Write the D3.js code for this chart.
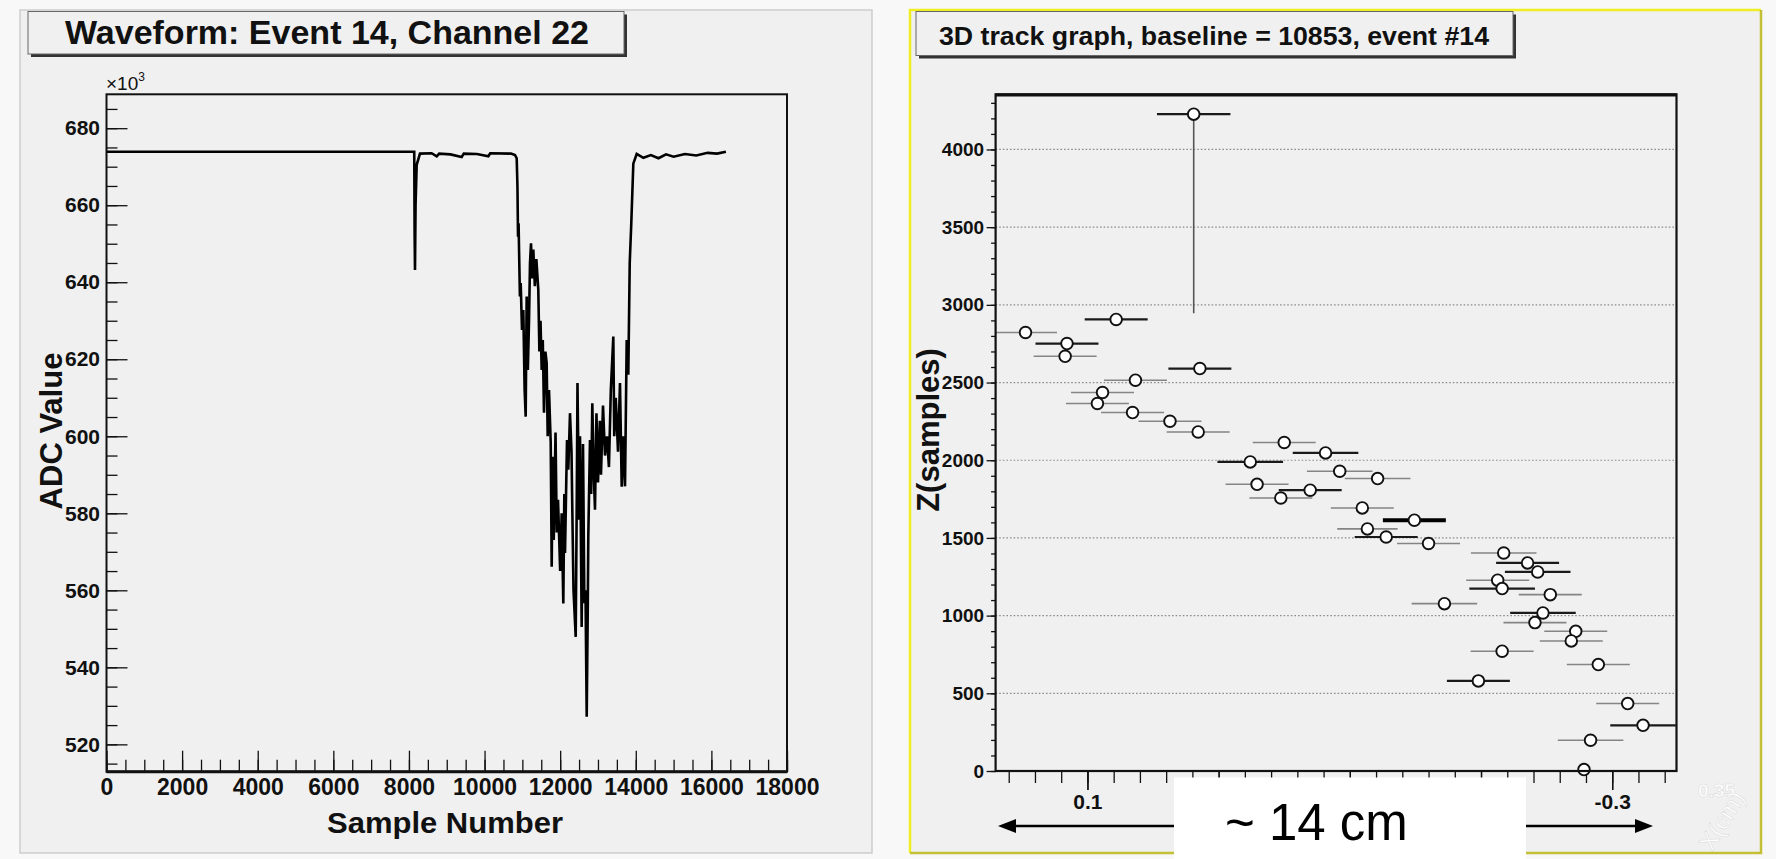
<!DOCTYPE html>
<html>
<head>
<meta charset="utf-8">
<script src="https://cdnjs.cloudflare.com/ajax/libs/d3/7.8.5/d3.min.js"></script>
<style>
body { margin: 0; background: #f8f8f8; }
svg { display: block; }
</style>
</head>
<body>
<svg id="viz" width="1776" height="859"></svg>
<script>
// ---- left plot: waveform, sample number vs ADC value (x10^3)
var waveSample = [0, 8140, 8150, 8160, 8175, 8205, 8292, 8600, 8735, 8800, 9100, 9395, 9450, 9800, 10100, 10150, 10700, 10805,
  10850, 10870, 10885, 10900, 10935, 10956, 10990, 11025, 11060, 11088, 11100, 11114, 11145, 11176, 11202, 11229, 11260, 11290,
  11330, 11370, 11422, 11450, 11480, 11511, 11540, 11572, 11610, 11643, 11670, 11705, 11750, 11776, 11800, 11830, 11877, 11910,
  11943, 12000, 12040, 12083, 12110, 12128, 12181, 12215, 12260, 12300, 12330, 12353, 12411, 12440, 12458, 12500, 12525, 12569,
  12604, 12640, 12670, 12702, 12730, 12744, 12789, 12820, 12850, 12890, 12921, 12960, 13001, 13050, 13080, 13133, 13186, 13239,
  13290, 13340, 13406, 13430, 13470, 13530, 13582, 13628, 13670, 13715, 13760, 13802, 13840, 13880, 13935, 14024,
  14200, 14400, 14600, 14800, 15000, 15300, 15600, 15900, 16150, 16384]
var waveValue = [673.9, 673.9, 652.7, 643.2, 660.0, 670.5, 673.4, 673.5, 672.7, 673.4, 673.2, 672.5, 673.4, 673.3, 672.7, 673.5, 673.4, 673.0,
  672.2, 665.0, 651.8, 655.3, 636.3, 639.8, 627.6, 632.8, 612.0, 605.1, 620.0, 636.3, 617.2, 630.0, 645.0, 650.1, 641.0, 648.5,
  639.0, 646.0, 638.0, 622.0, 630.0, 617.2, 625.0, 606.1, 622.0, 619.0, 600.0, 612.0, 598.3, 566.1, 594.7, 573.1, 601.0, 575.0,
  583.5, 565.0, 580.0, 556.6, 585.0, 569.7, 599.0, 591.3, 606.0, 596.0, 575.0, 560.0, 547.9, 585.0, 613.8, 578.3, 600.0, 550.5,
  598.0, 556.7, 560.0, 527.2, 555.0, 573.9, 599.0, 585.0, 608.6, 590.0, 580.9, 606.0, 588.0, 604.0, 590.0, 608.0, 595.0, 600.0,
  592.0, 612.0, 625.9, 600.0, 610.0, 596.0, 613.8, 586.9, 600.0, 587.0, 625.0, 616.0, 645.0, 655.0, 670.8, 673.3,
  672.3, 673.0, 672.2, 673.2, 672.6, 673.3, 672.9, 673.6, 673.4, 673.9]
var waveXTicks = [0, 2000, 4000, 6000, 8000, 10000, 12000, 14000, 16000, 18000]
var waveYTicks = [520, 540, 560, 580, 600, 620, 640, 660, 680]

// ---- right plot: 3D track graph points, X (cm) vs Z (samples)
var trackX = [0.0190, 0.0781, 0.1472, 0.1156, 0.1170, 0.0143, 0.0634, 0.0885, 0.0924, 0.0656, 0.0371, 0.0156, -0.0500,
  -0.0815, -0.0241, -0.0923, -0.1212, -0.0293, -0.0698, -0.0474, -0.1095, -0.1492, -0.1134, -0.1277, -0.1600, -0.2173,
  -0.2355, -0.2432, -0.2127, -0.2161, -0.2528, -0.1721, -0.2472, -0.2411, -0.2722, -0.2688, -0.2161, -0.2894, -0.1980,
  -0.3118, -0.3235, -0.2835, -0.2785]
var trackZ = [4227, 2906, 2822, 2751, 2669, 2590, 2515, 2436, 2365, 2307, 2251, 2182, 2114, 2047, 1989, 1929, 1882, 1845,
  1807, 1757, 1693, 1614, 1558, 1506, 1464, 1403, 1339, 1281, 1228, 1174, 1135, 1077, 1017, 955, 899, 837, 771, 685, 580,
  434, 294, 198, 9]
var trackEx = [0.028, 0.024, 0.024, 0.024, 0.024, 0.024, 0.024, 0.024, 0.024, 0.024, 0.024, 0.024, 0.024, 0.025, 0.025,
  0.025, 0.025, 0.024, 0.024, 0.024, 0.024, 0.024, 0.023, 0.024, 0.024, 0.025, 0.024, 0.025, 0.024, 0.025, 0.024, 0.025,
  0.025, 0.024, 0.024, 0.024, 0.024, 0.024, 0.024, 0.024, 0.025, 0.025, 0]
var trackEzLo = [1281, 0, 0, 0, 0, 0, 0, 0, 0, 0, 0, 0, 0, 0, 0, 0, 0, 0, 0, 0, 0, 0, 0, 0, 0, 0, 0, 0, 0, 0, 0, 0, 0, 0, 0, 0, 0, 0, 77, 84, 61, 0, 0]
var trackEzHi = [0, 0, 0, 0, 0, 0, 0, 0, 0, 0, 0, 0, 0, 0, 0, 0, 0, 0, 0, 0, 0, 0, 0, 0, 0, 0, 0, 0, 0, 0, 0, 0, 0, 0, 0, 0, 0, 0, 77, 84, 61, 0, 156]
// bar style: l = thin grey, d = dark, h = heavy
var trackStyle = ["d", "d", "l", "d", "l", "d", "l", "l", "l", "l", "l", "l", "l", "d", "d", "l", "l", "l", "d", "l", "l", "h",
  "l", "d", "l", "l", "d", "d", "l", "d", "l", "l", "d", "l", "l", "l", "l", "l", "d", "l", "d", "l", "l"]
var trackXTicks = [0.1, 0, -0.1, -0.2, -0.3]
var trackXLabels = [0.1, -0.3]   // the others sit under the white box
var trackZTicks = [0, 500, 1000, 1500, 2000, 2500, 3000, 3500, 4000]

var font = "'Liberation Sans', Arial, Helvetica, sans-serif"
var svg = d3.select("#viz")

// pads
svg.append("rect").attr("x", 20).attr("y", 10).attr("width", 852).attr("height", 843)
  .attr("fill", "#f0f0f0").attr("stroke", "#cdcdcd").attr("stroke-width", 1.5)
svg.append("rect").attr("x", 910).attr("y", 10).attr("width", 851).attr("height", 843).attr("fill", "#f0f0f0")
svg.append("path").attr("d", "M910,853V10H1761").attr("fill", "none").attr("stroke", "#eeee22").attr("stroke-width", 2.5)
svg.append("path").attr("d", "M1761,10V853H910").attr("fill", "none").attr("stroke", "#c4c036").attr("stroke-width", 2.5)

function titleBox(x, y, w, h, tx, ty, size, len, label) {
  svg.append("rect").attr("x", x + 3).attr("y", y + 3).attr("width", w).attr("height", h).attr("fill", "#333")
  svg.append("rect").attr("x", x).attr("y", y).attr("width", w).attr("height", h)
    .attr("fill", "#f0f0f0").attr("stroke", "#666").attr("stroke-width", 1)
  svg.append("text").attr("x", tx).attr("y", ty).attr("font-family", font).attr("font-weight", "bold")
    .attr("font-size", size).attr("textLength", len).attr("lengthAdjust", "spacingAndGlyphs")
    .attr("fill", "#111").text(label)
}
titleBox(28, 11.5, 596, 42.5, 65, 43.5, 33, 524, "Waveform: Event 14, Channel 22")
titleBox(916, 11.5, 597, 44, 939, 45, 26, 550, "3D track graph, baseline = 10853, event #14")

function styleAxis(g, size) {
  g.select(".domain").remove()
  g.selectAll("line").attr("stroke", "#111").attr("stroke-width", 1.3)
  g.selectAll("text").attr("font-family", font).attr("font-weight", "bold")
    .attr("font-size", size).attr("fill", "#111")
}

// ================= left: waveform =================
var xL = d3.scaleLinear().domain([0, 18000]).range([106.5, 787])
var yL = d3.scaleLinear().domain([512.9, 688.8]).range([771.7, 94.3])

svg.append("g").attr("transform", "translate(0,771.7)")
  .call(d3.axisBottom(xL).tickValues(d3.range(0, 18001, 500)).tickSize(-12).tickFormat(""))
  .call(styleAxis, 23)
svg.append("g").attr("transform", "translate(0,771.7)")
  .call(d3.axisBottom(xL).tickValues(waveXTicks).tickSize(-21).tickPadding(7).tickFormat(d3.format("d")))
  .call(styleAxis, 23)
svg.append("g").attr("transform", "translate(106.5,0)")
  .call(d3.axisLeft(yL).tickValues(d3.range(515, 689, 5)).tickSize(-11).tickFormat(""))
  .call(styleAxis, 21)
svg.append("g").attr("transform", "translate(106.5,0)")
  .call(d3.axisLeft(yL).tickValues(waveYTicks).tickSize(-21).tickPadding(6.5).tickFormat(d3.format("d")))
  .call(styleAxis, 21)

var waveLine = d3.line().x(function(d, i) { return xL(waveSample[i]) }).y(function(d, i) { return yL(waveValue[i]) })
svg.append("path").datum(waveSample).attr("d", waveLine)
  .attr("fill", "none").attr("stroke", "#000").attr("stroke-width", 2.6).attr("stroke-linejoin", "miter")

svg.append("rect").attr("x", 106.5).attr("y", 94.3).attr("width", 680.5).attr("height", 677.4)
  .attr("fill", "none").attr("stroke", "#111").attr("stroke-width", 2)
svg.append("line").attr("x1", 106.5).attr("x2", 787).attr("y1", 771.7).attr("y2", 771.7)
  .attr("stroke", "#111").attr("stroke-width", 3)

var exp = svg.append("text").attr("x", 106).attr("y", 90).attr("font-family", font)
  .attr("font-size", 19).attr("fill", "#111").text("\u00d710")
exp.append("tspan").attr("dy", -9).attr("font-size", 12).text("3")

svg.append("text").attr("x", 445).attr("y", 833).attr("text-anchor", "middle")
  .attr("font-family", font).attr("font-weight", "bold").attr("font-size", 30)
  .attr("textLength", 236).attr("lengthAdjust", "spacingAndGlyphs").attr("fill", "#111").text("Sample Number")
svg.append("text").attr("transform", "translate(62,431) rotate(-90)").attr("text-anchor", "middle")
  .attr("font-family", font).attr("font-weight", "bold").attr("font-size", 31).attr("fill", "#111").text("ADC Value")

// ================= right: track graph =================
var xR = d3.scaleLinear().domain([0.17, -0.349]).range([995.6, 1676.5])
var yR = d3.scaleLinear().domain([0, 4355]).range([771, 94.3])

svg.append("g").selectAll("line").data(trackZTicks.filter(function(d) { return d > 0 })).enter().append("line")
  .attr("x1", xR.range()[0]).attr("x2", xR.range()[1])
  .attr("y1", function(d) { return yR(d) }).attr("y2", function(d) { return yR(d) })
  .attr("stroke", "#8c8c8c").attr("stroke-width", 1.2).attr("stroke-dasharray", "1.6,2")

svg.append("g").attr("transform", "translate(0,771)")
  .call(d3.axisBottom(xR).tickValues(d3.range(8, -18, -1).map(function(k) { return k * 0.02 })).tickSize(12).tickFormat(""))
  .call(styleAxis, 21)
svg.append("g").attr("transform", "translate(0,771)")
  .call(d3.axisBottom(xR).tickValues(trackXTicks).tickSize(19).tickFormat(""))
  .call(styleAxis, 21)
svg.append("g").attr("transform", "translate(0,771)")
  .call(d3.axisBottom(xR).tickValues(trackXLabels).tickSize(19).tickPadding(4)
    .tickFormat(function(d) { return String(Math.round(d * 10) / 10) }))
  .call(styleAxis, 21)
svg.append("g").attr("transform", "translate(995.6,0)")
  .call(d3.axisLeft(yR).tickValues(d3.range(0, 4355, 100)).tickSize(4.5).tickFormat(""))
  .call(styleAxis, 19)
svg.append("g").attr("transform", "translate(995.6,0)")
  .call(d3.axisLeft(yR).tickValues(trackZTicks).tickSize(9).tickPadding(2.5).tickFormat(d3.format("d")))
  .call(styleAxis, 19)

svg.append("clipPath").attr("id", "frameclip").append("rect")
  .attr("x", 995.6).attr("y", 94.3).attr("width", 680.9).attr("height", 676.7)

var barColor = { l: "#858585", d: "#1a1a1a", h: "#000" }
var barWidth = { l: 1.6, d: 2.2, h: 4 }
var bars = svg.append("g").attr("clip-path", "url(#frameclip)")
bars.selectAll("line.ex").data(trackX).enter().append("line").attr("class", "ex")
  .filter(function(d, i) { return trackEx[i] > 0 })
  .attr("x1", function(d, i) { return xR(d + trackEx[i]) })
  .attr("x2", function(d, i) { return xR(d - trackEx[i]) })
  .attr("y1", function(d, i) { return yR(trackZ[i]) })
  .attr("y2", function(d, i) { return yR(trackZ[i]) })
  .attr("stroke", function(d, i) { return barColor[trackStyle[i]] })
  .attr("stroke-width", function(d, i) { return barWidth[trackStyle[i]] })
bars.selectAll("line.ez").data(trackX).enter().append("line").attr("class", "ez")
  .filter(function(d, i) { return trackEzLo[i] + trackEzHi[i] > 0 })
  .attr("x1", function(d) { return xR(d) }).attr("x2", function(d) { return xR(d) })
  .attr("y1", function(d, i) { return yR(trackZ[i] - trackEzLo[i]) })
  .attr("y2", function(d, i) { return yR(trackZ[i] + trackEzHi[i]) })
  .attr("stroke", "#555").attr("stroke-width", 1.6)

svg.append("g").selectAll("circle").data(trackX).enter().append("circle")
  .attr("cx", function(d) { return xR(d) })
  .attr("cy", function(d, i) { return yR(trackZ[i]) })
  .attr("r", 5.8).attr("fill", "#fff").attr("stroke", "#111").attr("stroke-width", 1.9)

svg.append("rect").attr("x", 995.6).attr("y", 94.3).attr("width", 680.9).attr("height", 676.7)
  .attr("fill", "none").attr("stroke", "#111").attr("stroke-width", 2.2)
svg.append("line").attr("x1", 995.6).attr("x2", 1676.5).attr("y1", 95).attr("y2", 95)
  .attr("stroke", "#111").attr("stroke-width", 3)

svg.append("text").attr("transform", "translate(939,430) rotate(-90)").attr("text-anchor", "middle")
  .attr("font-family", font).attr("font-weight", "bold").attr("font-size", 31).attr("fill", "#111").text("Z(samples)")

// faint axis title in the corner
svg.append("text").attr("x", 1698).attr("y", 797).attr("font-family", font).attr("font-weight", "bold")
  .attr("font-size", 19).attr("fill", "#fff").attr("stroke", "#d8d8d8").attr("stroke-width", 0.5).text("0.35")
svg.append("text").attr("transform", "translate(1712,852) rotate(-58)").attr("font-family", font)
  .attr("font-size", 24).attr("fill", "#fff").attr("stroke", "#d8d8d8").attr("stroke-width", 0.5).text("X(cm)")

// annotation: ~14 cm span
svg.append("line").attr("x1", 1010).attr("x2", 1180).attr("y1", 826).attr("y2", 826)
  .attr("stroke", "#000").attr("stroke-width", 2.5)
svg.append("line").attr("x1", 1520).attr("x2", 1640).attr("y1", 826).attr("y2", 826)
  .attr("stroke", "#000").attr("stroke-width", 2.5)
svg.append("path").attr("d", "M998,826L1016,819L1016,833Z").attr("fill", "#000")
svg.append("path").attr("d", "M1653,826L1635,819L1635,833Z").attr("fill", "#000")
svg.append("rect").attr("x", 1174).attr("y", 777.5).attr("width", 352).attr("height", 82).attr("fill", "#fff")
svg.append("text").attr("x", 1225).attr("y", 840).attr("font-family", font).attr("font-size", 51)
  .attr("fill", "#000").text("~ 14 cm")
</script>
</body>
</html>
